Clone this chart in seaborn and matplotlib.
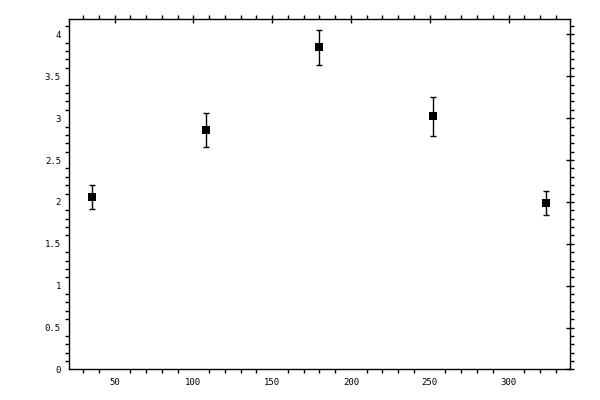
import numpy as np
import pandas as pd
import matplotlib
matplotlib.use('Agg')
import matplotlib.pyplot as plt
from matplotlib.ticker import MultipleLocator
import seaborn as sns

# %% Data
x_vals = [36, 108, 180, 252, 324]
y_vals = [2.055, 2.855, 3.845, 3.02, 1.985]
y_err = [0.143, 0.204, 0.213, 0.232, 0.14]

df = pd.DataFrame({'x': x_vals, 'y': y_vals, 'err': y_err})

# %% Plot
sns.set_theme(style='white')
plt.rcParams['font.family'] = ['DejaVu Sans Mono', 'DejaVu Sans']

fig = plt.figure(figsize=(6, 4), dpi=100)
ax = fig.add_axes([0.1155, 0.0763, 0.835, 0.8755])

ax.errorbar(df['x'], df['y'], yerr=df['err'], fmt='none', ecolor='black',
            elinewidth=1.0, capsize=2.3, capthick=1.0, zorder=2)
sns.scatterplot(data=df, x='x', y='y', ax=ax, marker='s', s=27, color='black',
                edgecolor='black', linewidth=0, zorder=3)

ax.set_xlim(21.3, 339.2)
ax.set_ylim(0, 4.18)
ax.set_xticks([50, 100, 150, 200, 250, 300])
ax.set_xticklabels(['50', '100', '150', '200', '250', '300'])
ax.set_yticks([0, 0.5, 1, 1.5, 2, 2.5, 3, 3.5, 4])
ax.set_yticklabels(['0', '0.5', '1', '1.5', '2', '2.5', '3', '3.5', '4'])
ax.xaxis.set_minor_locator(MultipleLocator(10))
ax.yaxis.set_minor_locator(MultipleLocator(0.1))

ax.tick_params(which='major', direction='inout', length=6, width=1.0,
               top=True, right=True, labeltop=False, labelright=False,
               labelsize=6.5, pad=3, color='black', labelcolor='black')
ax.tick_params(which='minor', direction='out', length=2.6, width=1.0,
               top=True, right=True, bottom=True, left=True, color='black')
for sp in ax.spines.values():
    sp.set_visible(True)
    sp.set_color('black')
    sp.set_linewidth(1.0)

ax.set_xlabel('')
ax.set_ylabel('')

fig.savefig('out.png', dpi=100, facecolor='white')
